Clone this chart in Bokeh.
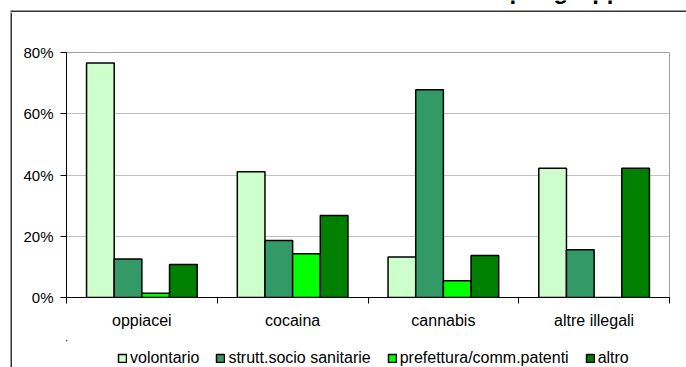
from bokeh.plotting import figure
from bokeh.layouts import row, column
from bokeh.models import (Range1d, FixedTicker, PrintfTickFormatter, Legend, LegendItem,
                          Label, BoxAnnotation, ColumnDataSource)
from bokeh.embed import file_html
from bokeh.resources import INLINE

# Data: share of each referral channel within each substance group (%)
groups = ["oppiacei", "cocaina", "cannabis", "altre illegali"]
series_names = ["volontario", "strutt.socio sanitarie", "prefettura/comm.patenti", "altro"]
volontario = [76.6, 41.1, 13.2, 42.2]
strutt_socio_sanitarie = [12.6, 18.6, 67.8, 15.6]
prefettura = [1.4, 14.3, 5.5, 0.0]
altro = [10.8, 26.8, 13.7, 42.2]
y_ticks = [0, 20, 40, 60, 80]

series_values = [volontario, strutt_socio_sanitarie, prefettura, altro]
colors = ["#CCFFCC", "#339966", "#00FF00", "#008000"]

FONT = "Liberation Sans"
FRAME_COLOR = "#333333"
BAR_W = 0.1835
W, H = 686, 367
EDGE = 12          # strip holding the chart-area frame lines
LEGEND_H = 27
PLOT_LEFT, PLOT_RIGHT, PLOT_TOP, PLOT_BOTTOM = 66, 669, 52, 297


def bare(width, height, x_range, y_range, left=0, right=0):
    f = figure(width=width, height=height, output_backend="svg", toolbar_location=None,
               title_location=None, x_axis_type=None, y_axis_type=None,
               x_range=x_range, y_range=y_range,
               min_border=0, min_border_left=left, min_border_right=right,
               min_border_top=0, min_border_bottom=0)
    f.grid.visible = False
    f.outline_line_color = None
    f.background_fill_color = "white"
    f.border_fill_color = "white"
    return f


# Top strip: horizontal frame line and the title running off the top edge
top_strip = bare(W, EDGE, Range1d(0, W), Range1d(0, EDGE))
top_strip.add_layout(BoxAnnotation(left=10, right=W, bottom=0, top=2,
                                   fill_color=FRAME_COLOR, fill_alpha=1, line_color=None))
top_strip.add_layout(Label(x=509, y=22.5, text="per gruppo",
                           text_font=FONT, text_font_size="24px", text_font_style="bold",
                           text_baseline="alphabetic", text_color="black"))

# Left strip: vertical frame line
left_strip = bare(EDGE, H - EDGE, Range1d(0, EDGE), Range1d(0, H - EDGE))
left_strip.add_layout(BoxAnnotation(left=10, right=12, bottom=0, top=H - EDGE,
                                    fill_color=FRAME_COLOR, fill_alpha=1, line_color=None))

# Main chart
p = figure(width=W - EDGE, height=H - EDGE - LEGEND_H, output_backend="svg",
           toolbar_location=None, title_location=None,
           x_range=Range1d(0, len(groups)), y_range=Range1d(0, 80),
           min_border_left=PLOT_LEFT - EDGE, min_border_right=W - PLOT_RIGHT,
           min_border_top=PLOT_TOP - EDGE, min_border_bottom=H - LEGEND_H - PLOT_BOTTOM)
p.background_fill_color = "white"
p.border_fill_color = "white"
p.outline_line_color = "#a0a0a0"
p.outline_line_width = 1

# Bars: four adjacent bars centred on each group
for k, (vals, col) in enumerate(zip(series_values, colors)):
    xs = [i + 0.5 + (k - 1.5) * BAR_W for i in range(len(groups))]
    src = ColumnDataSource(dict(x=xs, top=vals))
    p.vbar(x="x", top="top", bottom=0, width=BAR_W, source=src,
           fill_color=col, line_color="black", line_width=1.5)

p.xgrid.visible = False
p.ygrid.grid_line_color = "#c0c0c0"
p.ygrid.grid_line_width = 1
p.ygrid.ticker = FixedTicker(ticks=y_ticks)

p.yaxis.ticker = FixedTicker(ticks=y_ticks, minor_ticks=[])
p.yaxis.formatter = PrintfTickFormatter(format="%d%%")
p.yaxis.axis_line_color = "black"
p.yaxis.major_tick_line_color = "black"
p.yaxis.major_tick_in = 0
p.yaxis.major_tick_out = 6
p.yaxis.minor_tick_line_color = None
p.yaxis.major_label_text_font = FONT
p.yaxis.major_label_text_font_size = "15px"
p.yaxis.major_label_text_color = "black"
p.yaxis.major_label_standoff = 7

centers = [i + 0.5 for i in range(len(groups))]
bounds = [float(i) for i in range(len(groups) + 1)]
p.xaxis.ticker = FixedTicker(ticks=centers, minor_ticks=bounds)
p.xaxis.major_label_overrides = {c: g for c, g in zip(centers, groups)}
p.xaxis.axis_line_color = "black"
p.xaxis.major_tick_line_color = None
p.xaxis.major_tick_in = 0
p.xaxis.major_tick_out = 0
p.xaxis.minor_tick_line_color = "black"
p.xaxis.minor_tick_in = 0
p.xaxis.minor_tick_out = 6
p.xaxis.major_label_text_font = FONT
p.xaxis.major_label_text_font_size = "16px"
p.xaxis.major_label_text_color = "black"
p.xaxis.major_label_standoff = 8

# Legend strip under the chart (same side borders as the chart)
leg_fig = bare(W - EDGE, LEGEND_H, Range1d(0, 1), Range1d(0, 1),
               left=PLOT_LEFT - EDGE, right=W - PLOT_RIGHT)
items = []
for name, col in zip(series_names, colors):
    # swatch renderers: one bar kept outside the visible ranges on both axes
    r = leg_fig.vbar(x=[-5.0], top=[6.0], bottom=5.0, width=0.1,
                     fill_color=col, line_color="black", line_width=1.5)
    items.append(LegendItem(label=name, renderers=[r]))
legend = Legend(items=items, orientation="horizontal", location=(117 - PLOT_LEFT, 0),
                label_text_font=FONT, label_text_font_size="16px", label_text_color="black",
                glyph_width=10, glyph_height=10, label_standoff=3, spacing=16,
                padding=0, margin=0, border_line_color=None, background_fill_alpha=0)
leg_fig.add_layout(legend)

layout = column(top_strip,
                row(left_strip, column(p, leg_fig, spacing=0), spacing=0),
                spacing=0)

open("out.html", "w").write(file_html(layout, INLINE))
